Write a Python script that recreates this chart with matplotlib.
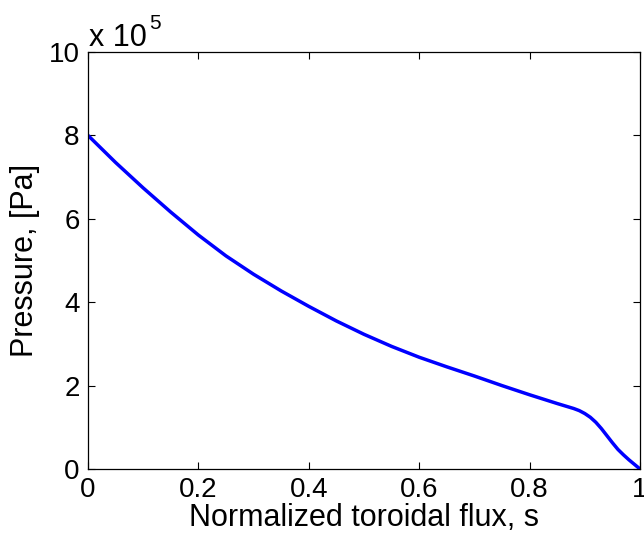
import matplotlib
matplotlib.use("Agg")
import matplotlib.pyplot as plt
import numpy as np

plt.rcParams['font.family'] = ['Liberation Sans', 'DejaVu Sans']

# Data: normalized toroidal flux s and pressure (in units of 1e5 Pa)
s_vals = [0, 0.05, 0.1, 0.15, 0.2, 0.25, 0.3, 0.35, 0.4, 0.45, 0.5, 0.55, 0.6,
          0.65, 0.7, 0.75, 0.8, 0.85, 0.88, 0.89, 0.9, 0.91, 0.92, 0.93, 0.94,
          0.95, 0.96, 0.97, 0.98, 0.99, 1.0]
p_vals_1e5 = [8.0, 7.35, 6.74, 6.16, 5.61, 5.11, 4.67, 4.27, 3.90, 3.55, 3.23,
              2.94, 2.68, 2.45, 2.23, 2.00, 1.78, 1.57, 1.45, 1.40, 1.33, 1.24,
              1.12, 0.97, 0.80, 0.63, 0.47, 0.34, 0.22, 0.11, 0.0]
x_ticks = [0, 0.2, 0.4, 0.6, 0.8, 1]
x_tick_labels = ['0', '0.2', '0.4', '0.6', '0.8', '1']
y_ticks_1e5 = [0, 2, 4, 6, 8, 10]
y_tick_labels = ['0', '2', '4', '6', '8', '10']

W, H = 644, 540
fig = plt.figure(figsize=(W / 100, H / 100), dpi=100)
ax = fig.add_axes([88 / W, 1 - 469 / H, (640 - 88) / W, (469 - 52) / H])

p_pa = np.array(p_vals_1e5) * 1e5
ax.plot(s_vals, p_pa, color='#0000ff', linewidth=2.5, solid_capstyle='butt',
        solid_joinstyle='round')

ax.set_xlim(0, 1)
ax.set_ylim(0, 1e6)
ax.set_xticks(x_ticks)
ax.set_xticklabels(x_tick_labels)
ax.set_yticks(np.array(y_ticks_1e5) * 1e5)
ax.set_yticklabels(y_tick_labels)

ax.tick_params(direction='in', length=5, width=0.8, labelsize=20, pad=6,
               top=True, right=True, colors='black')
for sp in ax.spines.values():
    sp.set_linewidth(0.9)
    sp.set_color('black')

ax.set_xlabel('Normalized toroidal flux, s', fontsize=22, labelpad=0)
ax.set_ylabel('Pressure, [Pa]', fontsize=22, labelpad=6)

fig.text(89 / W, 1 - 46 / H, 'x 10', fontsize=22, va='baseline', ha='left')
fig.text(149 / W, 1 - 29 / H, '5', fontsize=15, va='baseline', ha='left')

fig.savefig('out.png', dpi=100)
